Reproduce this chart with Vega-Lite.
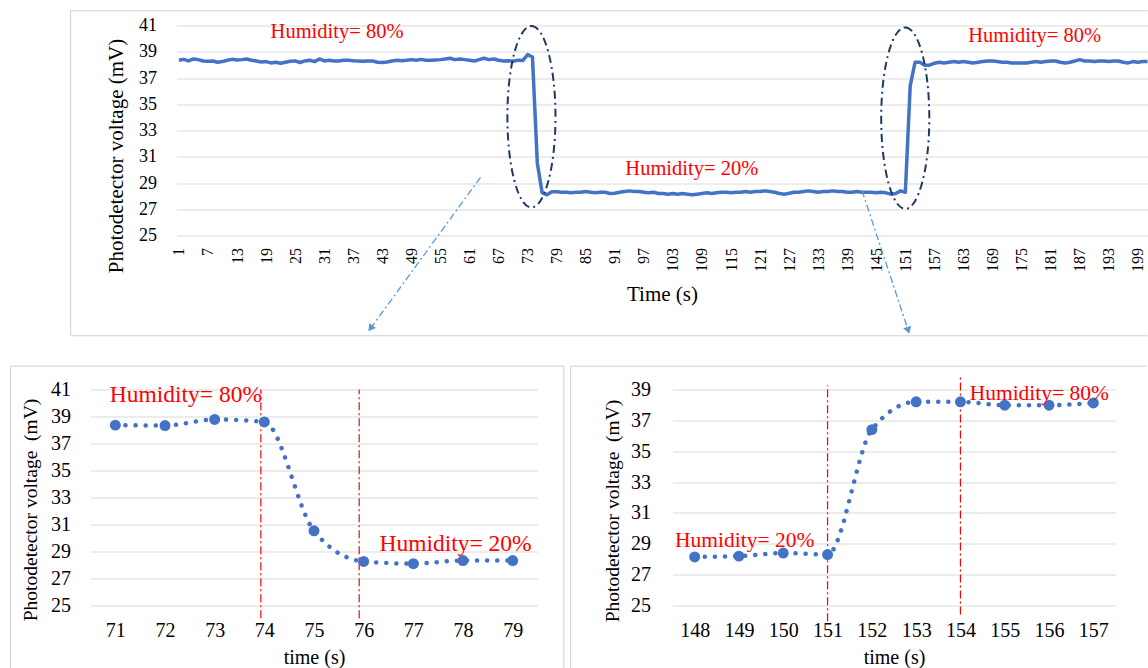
{
  "$schema": "https://vega.github.io/schema/vega-lite/v6.json",
  "background": "white",
  "padding": {"left": 9.5, "top": 9.5, "right": 0, "bottom": 0},
  "config": {
    "font": "Liberation Serif",
    "view": {"stroke": null},
    "axis": {
      "domain": false, "ticks": false, "tickSize": 0,
      "labelColor": "#000000", "titleColor": "#000000", "titleFontWeight": "normal",
      "gridColor": "#d9d9d9", "gridWidth": 1,
      "labelFlush": false, "labelOverlap": false,
      "labelFont": "Liberation Serif", "titleFont": "Liberation Serif"
    }
  },
  "datasets": {
    "top": [
      {"t":1,"v":38.35},{"t":2,"v":38.42},{"t":3,"v":38.3},{"t":4,"v":38.45},{"t":5,"v":38.4},{"t":6,"v":38.3},{"t":7,"v":38.28},{"t":8,"v":38.3},{"t":9,"v":38.2},{"t":10,"v":38.25},
      {"t":11,"v":38.35},{"t":12,"v":38.42},{"t":13,"v":38.38},{"t":14,"v":38.4},{"t":15,"v":38.45},{"t":16,"v":38.35},{"t":17,"v":38.3},{"t":18,"v":38.22},{"t":19,"v":38.25},{"t":20,"v":38.15},
      {"t":21,"v":38.2},{"t":22,"v":38.12},{"t":23,"v":38.2},{"t":24,"v":38.28},{"t":25,"v":38.3},{"t":26,"v":38.18},{"t":27,"v":38.3},{"t":28,"v":38.35},{"t":29,"v":38.25},{"t":30,"v":38.45},
      {"t":31,"v":38.3},{"t":32,"v":38.35},{"t":33,"v":38.3},{"t":34,"v":38.3},{"t":35,"v":38.35},{"t":36,"v":38.35},{"t":37,"v":38.32},{"t":38,"v":38.3},{"t":39,"v":38.27},{"t":40,"v":38.3},
      {"t":41,"v":38.3},{"t":42,"v":38.2},{"t":43,"v":38.18},{"t":44,"v":38.22},{"t":45,"v":38.3},{"t":46,"v":38.35},{"t":47,"v":38.32},{"t":48,"v":38.35},{"t":49,"v":38.4},{"t":50,"v":38.35},
      {"t":51,"v":38.42},{"t":52,"v":38.35},{"t":53,"v":38.35},{"t":54,"v":38.38},{"t":55,"v":38.4},{"t":56,"v":38.45},{"t":57,"v":38.5},{"t":58,"v":38.4},{"t":59,"v":38.45},{"t":60,"v":38.4},
      {"t":61,"v":38.35},{"t":62,"v":38.3},{"t":63,"v":38.4},{"t":64,"v":38.5},{"t":65,"v":38.4},{"t":66,"v":38.45},{"t":67,"v":38.35},{"t":68,"v":38.3},{"t":69,"v":38.32},{"t":70,"v":38.28},
      {"t":71,"v":38.36},{"t":72,"v":38.33},{"t":73,"v":38.78},{"t":74,"v":38.6},{"t":75,"v":30.53},{"t":76,"v":28.26},{"t":77,"v":28.1},{"t":78,"v":28.33},{"t":79,"v":28.33},{"t":80,"v":28.3},
      {"t":81,"v":28.3},{"t":82,"v":28.25},{"t":83,"v":28.3},{"t":84,"v":28.3},{"t":85,"v":28.35},{"t":86,"v":28.3},{"t":87,"v":28.25},{"t":88,"v":28.3},{"t":89,"v":28.3},{"t":90,"v":28.2},
      {"t":91,"v":28.22},{"t":92,"v":28.3},{"t":93,"v":28.35},{"t":94,"v":28.4},{"t":95,"v":28.35},{"t":96,"v":28.35},{"t":97,"v":28.3},{"t":98,"v":28.25},{"t":99,"v":28.3},{"t":100,"v":28.2},
      {"t":101,"v":28.2},{"t":102,"v":28.15},{"t":103,"v":28.2},{"t":104,"v":28.15},{"t":105,"v":28.2},{"t":106,"v":28.15},{"t":107,"v":28.1},{"t":108,"v":28.15},{"t":109,"v":28.2},{"t":110,"v":28.25},
      {"t":111,"v":28.2},{"t":112,"v":28.25},{"t":113,"v":28.3},{"t":114,"v":28.3},{"t":115,"v":28.25},{"t":116,"v":28.3},{"t":117,"v":28.3},{"t":118,"v":28.35},{"t":119,"v":28.3},{"t":120,"v":28.35},
      {"t":121,"v":28.35},{"t":122,"v":28.4},{"t":123,"v":28.35},{"t":124,"v":28.3},{"t":125,"v":28.2},{"t":126,"v":28.15},{"t":127,"v":28.22},{"t":128,"v":28.3},{"t":129,"v":28.3},{"t":130,"v":28.35},
      {"t":131,"v":28.4},{"t":132,"v":28.35},{"t":133,"v":28.3},{"t":134,"v":28.35},{"t":135,"v":28.35},{"t":136,"v":28.4},{"t":137,"v":28.35},{"t":138,"v":28.35},{"t":139,"v":28.3},{"t":140,"v":28.3},
      {"t":141,"v":28.35},{"t":142,"v":28.3},{"t":143,"v":28.3},{"t":144,"v":28.3},{"t":145,"v":28.25},{"t":146,"v":28.3},{"t":147,"v":28.25},{"t":148,"v":28.15},{"t":149,"v":28.2},{"t":150,"v":28.4},
      {"t":151,"v":28.3},{"t":152,"v":36.4},{"t":153,"v":38.2},{"t":154,"v":38.2},{"t":155,"v":37.98},{"t":156,"v":37.98},{"t":157,"v":38.13},{"t":158,"v":38.2},{"t":159,"v":38.15},{"t":160,"v":38.2},
      {"t":161,"v":38.25},{"t":162,"v":38.2},{"t":163,"v":38.25},{"t":164,"v":38.2},{"t":165,"v":38.15},{"t":166,"v":38.2},{"t":167,"v":38.25},{"t":168,"v":38.3},{"t":169,"v":38.3},{"t":170,"v":38.25},
      {"t":171,"v":38.2},{"t":172,"v":38.2},{"t":173,"v":38.15},{"t":174,"v":38.15},{"t":175,"v":38.15},{"t":176,"v":38.15},{"t":177,"v":38.2},{"t":178,"v":38.25},{"t":179,"v":38.2},{"t":180,"v":38.25},
      {"t":181,"v":38.3},{"t":182,"v":38.3},{"t":183,"v":38.2},{"t":184,"v":38.15},{"t":185,"v":38.2},{"t":186,"v":38.3},{"t":187,"v":38.4},{"t":188,"v":38.3},{"t":189,"v":38.3},{"t":190,"v":38.25},
      {"t":191,"v":38.3},{"t":192,"v":38.3},{"t":193,"v":38.25},{"t":194,"v":38.3},{"t":195,"v":38.3},{"t":196,"v":38.2},{"t":197,"v":38.15},{"t":198,"v":38.25},{"t":199,"v":38.2},{"t":200,"v":38.25},
      {"t":201,"v":38.25}
    ],
    "topNotes": [
      {"t":33.65,"v":40.47,"label":"Humidity= 80%"},
      {"t":106.9,"v":30.07,"label":"Humidity= 20%"},
      {"t":177.7,"v":40.22,"label":"Humidity= 80%"}
    ],
    "ellipses": [
      {"t":73.79,"v":34.05},
      {"t":150.98,"v":33.94}
    ],
    "arrows": [
      {"t1":63.27,"v1":29.43,"t2":40.56,"v2":17.92,"angle":215.8},
      {"t1":142.05,"v1":28.42,"t2":151.6,"v2":17.77,"angle":161.8}
    ],
    "topFrame": [
      {"t1":-21.37,"v1":42.12,"t2":-21.37,"v2":17.36},
      {"t1":-21.37,"v1":42.12,"t2":201.0,"v2":42.12},
      {"t1":-21.37,"v1":17.36,"t2":201.0,"v2":17.36}
    ],
    "left": [
      {"t":71,"v":38.36},{"t":72,"v":38.33},{"t":73,"v":38.78},{"t":74,"v":38.6},{"t":75,"v":30.53},
      {"t":76,"v":28.26},{"t":77,"v":28.1},{"t":78,"v":28.33},{"t":79,"v":28.33}
    ],
    "leftRules": [
      {"t":73.93,"v1":24.05,"v2":41.0},
      {"t":75.91,"v1":24.05,"v2":41.0}
    ],
    "leftNotes": [
      {"t":72.42,"v":40.58,"label":"Humidity= 80%"},
      {"t":77.85,"v":29.54,"label":"Humidity= 20%"}
    ],
    "leftFrame": [
      {"t1":68.89,"v1":42.73,"t2":68.89,"v2":20.35},
      {"t1":80.03,"v1":42.73,"t2":80.03,"v2":20.35},
      {"t1":68.89,"v1":42.73,"t2":80.03,"v2":42.73}
    ],
    "right": [
      {"t":148,"v":28.15},{"t":149,"v":28.2},{"t":150,"v":28.4},{"t":151,"v":28.3},{"t":152,"v":36.4},
      {"t":153,"v":38.2},{"t":154,"v":38.2},{"t":155,"v":37.98},{"t":156,"v":37.98},{"t":157,"v":38.13}
    ],
    "rightRules": [
      {"t":151,"v1":23.98,"v2":39.28},
      {"t":154,"v1":24.42,"v2":39.93}
    ],
    "rightNotes": [
      {"t":149.13,"v":29.19,"label":"Humidity= 20%"},
      {"t":155.78,"v":38.74,"label":"Humidity= 80%"}
    ],
    "rightFrame": [
      {"t1":145.2,"v1":40.51,"t2":145.2,"v2":20.94},
      {"t1":145.2,"v1":40.51,"t2":158.2,"v2":40.51}
    ]
  },
  "bounds": "flush",
  "spacing": 364,
  "vconcat": [
    {
      "bounds": "flush",
      "spacing": 0,
      "hconcat": [
        {"width": 86, "height": 10, "data": {"values": []}, "mark": "point"},
        {
          "width": 971,
          "height": 210,
          "layer": [
            {
              "data": {"name": "top"},
              "mark": {"type": "line", "color": "#4472c4", "strokeWidth": 3.5, "strokeJoin": "round"},
              "encoding": {
                "x": {"field": "t", "type": "quantitative", "scale": {"domain": [0.5, 201], "nice": false, "zero": false},
                  "axis": {"title": "Time (s)", "values": [1,7,13,19,25,31,37,43,49,55,61,67,73,79,85,91,97,103,109,115,121,127,133,139,145,151,157,163,169,175,181,187,193,199],
                    "tickCount": 500, "format": "d", "grid": false, "labelAngle": -90, "labelFontSize": 16, "labelPadding": 12, "titleFontSize": 21, "titlePadding": 12, "labelOverlap": false}},
                "y": {"field": "v", "type": "quantitative", "scale": {"domain": [25, 41], "nice": false, "zero": false},
                  "axis": {"title": "Photodetector voltage (mV)", "values": [25,27,29,31,33,35,37,39,41], "tickCount": 500, "format": "d", "grid": true, "labelOverlap": false,
                    "labelFontSize": 18, "labelPadding": 20, "titleFontSize": 21, "titlePadding": 12, "titleY": 130}}
              }
            },
            {
              "data": {"name": "topFrame"},
              "mark": {"type": "rule", "color": "#d0d0d0", "strokeWidth": 1},
              "encoding": {
                "x": {"field": "t1", "type": "quantitative"},
                "y": {"field": "v1", "type": "quantitative"},
                "x2": {"field": "t2"},
                "y2": {"field": "v2"}
              }
            },
            {
              "data": {"name": "topNotes"},
              "mark": {"type": "text", "color": "#ff0000", "fontSize": 20.5, "font": "Liberation Serif", "align": "center", "baseline": "middle"},
              "encoding": {
                "x": {"field": "t", "type": "quantitative"},
                "y": {"field": "v", "type": "quantitative"},
                "text": {"field": "label"}
              }
            },
            {
              "data": {"name": "ellipses"},
              "mark": {"type": "point", "shape": "M0,-1C0.1464,-1,0.265,-0.5523,0.265,0C0.265,0.5523,0.1464,1,0,1C-0.1464,1,-0.265,0.5523,-0.265,0C-0.265,-0.5523,-0.1464,-1,0,-1Z",
                "filled": false, "size": 32942, "color": "#203864", "strokeWidth": 2, "strokeDash": [8, 4, 2, 4], "opacity": 1},
              "encoding": {
                "x": {"field": "t", "type": "quantitative"},
                "y": {"field": "v", "type": "quantitative"}
              }
            },
            {
              "data": {"name": "arrows"},
              "mark": {"type": "rule", "color": "#5b9bd5", "strokeWidth": 1.3, "strokeDash": [7, 3, 2, 3]},
              "encoding": {
                "x": {"field": "t1", "type": "quantitative"},
                "y": {"field": "v1", "type": "quantitative"},
                "x2": {"field": "t2"},
                "y2": {"field": "v2"}
              }
            },
            {
              "data": {"name": "arrows"},
              "mark": {"type": "point", "shape": "triangle-up", "filled": true, "size": 70, "color": "#5b9bd5", "opacity": 1},
              "encoding": {
                "x": {"field": "t2", "type": "quantitative"},
                "y": {"field": "v2", "type": "quantitative"},
                "angle": {"field": "angle", "type": "quantitative", "scale": null}
              }
            }
          ]
        }
      ]
    },
    {
      "bounds": "flush",
      "spacing": 135,
      "hconcat": [
        {
          "width": 447,
          "height": 216,
          "layer": [
            {
              "data": {"name": "leftRules"},
              "mark": {"type": "rule", "color": "#ff0000", "strokeWidth": 1.2, "strokeDash": [8, 3, 2, 3]},
              "encoding": {
                "x": {"field": "t", "type": "quantitative", "scale": {"domain": [70.5, 79.5], "nice": false, "zero": false},
                  "axis": {"title": "time (s)", "values": [71,72,73,74,75,76,77,78,79], "tickCount": 500, "format": "d", "grid": false, "labelOverlap": false,
                    "labelFontSize": 20, "labelPadding": 15, "titleFontSize": 20, "titlePadding": 7}},
                "y": {"field": "v1", "type": "quantitative", "scale": {"domain": [25, 41], "nice": false, "zero": false},
                  "axis": {"title": "Photodetector voltage\u00a0 (mV)", "values": [25,27,29,31,33,35,37,39,41], "tickCount": 500, "format": "d", "grid": true, "labelOverlap": false,
                    "labelFontSize": 20, "labelPadding": 20, "titleFontSize": 19.5, "titlePadding": 10, "titleY": 120}},
                "y2": {"field": "v2"}
              }
            },
            {
              "data": {"name": "leftFrame"},
              "mark": {"type": "rule", "color": "#d0d0d0", "strokeWidth": 1},
              "encoding": {
                "x": {"field": "t1", "type": "quantitative"},
                "y": {"field": "v1", "type": "quantitative"},
                "x2": {"field": "t2"},
                "y2": {"field": "v2"}
              }
            },
            {
              "data": {"name": "left"},
              "mark": {"type": "line", "color": "#4472c4", "strokeWidth": 4.5, "strokeCap": "round", "strokeDash": [0.1, 10], "interpolate": "monotone"},
              "encoding": {
                "x": {"field": "t", "type": "quantitative"},
                "y": {"field": "v", "type": "quantitative"}
              }
            },
            {
              "data": {"name": "left"},
              "mark": {"type": "point", "filled": true, "size": 120, "color": "#4472c4", "opacity": 1},
              "encoding": {
                "x": {"field": "t", "type": "quantitative"},
                "y": {"field": "v", "type": "quantitative"}
              }
            },
            {
              "data": {"name": "leftNotes"},
              "mark": {"type": "text", "color": "#ff0000", "fontSize": 23.5, "font": "Liberation Serif", "align": "center", "baseline": "middle"},
              "encoding": {
                "x": {"field": "t", "type": "quantitative"},
                "y": {"field": "v", "type": "quantitative"},
                "text": {"field": "label"}
              }
            }
          ]
        },
        {
          "width": 443,
          "height": 216,
          "layer": [
            {
              "data": {"name": "rightRules"},
              "mark": {"type": "rule", "color": "#ff0000", "strokeWidth": 1.2, "strokeDash": [8, 3, 2, 3]},
              "encoding": {
                "x": {"field": "t", "type": "quantitative", "scale": {"domain": [147.5, 157.5], "nice": false, "zero": false},
                  "axis": {"title": "time (s)", "values": [148,149,150,151,152,153,154,155,156,157], "tickCount": 500, "format": "d", "grid": false, "labelOverlap": false,
                    "labelFontSize": 20, "labelPadding": 15, "titleFontSize": 20, "titlePadding": 7}},
                "y": {"field": "v1", "type": "quantitative", "scale": {"domain": [25, 39], "nice": false, "zero": false},
                  "axis": {"title": "Photodetector voltage\u00a0 (mV)", "values": [25,27,29,31,33,35,37,39], "tickCount": 500, "format": "d", "grid": true, "labelOverlap": false,
                    "labelFontSize": 20, "labelPadding": 22, "titleFontSize": 19.5, "titlePadding": 8, "titleY": 121}},
                "y2": {"field": "v2"}
              }
            },
            {
              "data": {"name": "rightFrame"},
              "mark": {"type": "rule", "color": "#d0d0d0", "strokeWidth": 1},
              "encoding": {
                "x": {"field": "t1", "type": "quantitative"},
                "y": {"field": "v1", "type": "quantitative"},
                "x2": {"field": "t2"},
                "y2": {"field": "v2"}
              }
            },
            {
              "data": {"name": "right"},
              "mark": {"type": "line", "color": "#4472c4", "strokeWidth": 4.5, "strokeCap": "round", "strokeDash": [0.1, 10], "interpolate": "monotone"},
              "encoding": {
                "x": {"field": "t", "type": "quantitative"},
                "y": {"field": "v", "type": "quantitative"}
              }
            },
            {
              "data": {"name": "right"},
              "mark": {"type": "point", "filled": true, "size": 120, "color": "#4472c4", "opacity": 1},
              "encoding": {
                "x": {"field": "t", "type": "quantitative"},
                "y": {"field": "v", "type": "quantitative"}
              }
            },
            {
              "data": {"name": "rightNotes"},
              "mark": {"type": "text", "color": "#ff0000", "fontSize": 21.5, "font": "Liberation Serif", "align": "center", "baseline": "middle"},
              "encoding": {
                "x": {"field": "t", "type": "quantitative"},
                "y": {"field": "v", "type": "quantitative"},
                "text": {"field": "label"}
              }
            }
          ]
        }
      ]
    }
  ]
}
